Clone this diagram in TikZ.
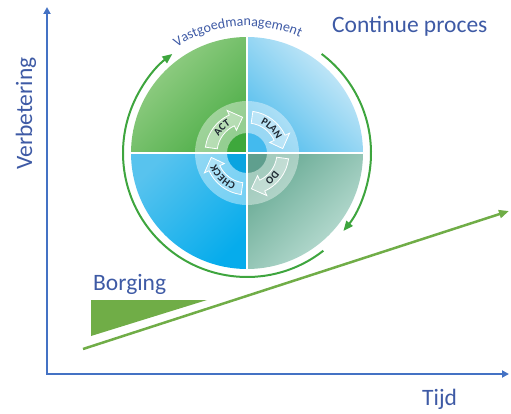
\documentclass[tikz,border=0pt]{standalone}
\usepackage{fontspec}
\setmainfont{Carlito}
\usetikzlibrary{arrows.meta, positioning, decorations.text}

\definecolor{axisblue}{RGB}{68,114,196}
\definecolor{textblue}{RGB}{62,90,165}
\definecolor{trendgreen}{RGB}{112,173,71}
\definecolor{cyclegreen}{RGB}{62,165,62}
\definecolor{pdcadark}{RGB}{30,40,50}
\definecolor{tllight}{RGB}{155,209,140}
\definecolor{tldark}{RGB}{78,174,72}
\definecolor{trlight}{RGB}{214,238,249}
\definecolor{trdark}{RGB}{85,190,237}
\definecolor{bllight}{RGB}{88,195,238}
\definecolor{bldark}{RGB}{6,172,236}
\definecolor{brlight}{RGB}{194,226,217}
\definecolor{brdark}{RGB}{104,170,148}
\definecolor{tlinner}{RGB}{62,168,60}
\definecolor{trinner}{RGB}{67,186,238}
\definecolor{blinner}{RGB}{10,164,224}
\definecolor{brinner}{RGB}{95,159,142}

\newcommand{\pdcafont}{\fontsize{10.5}{10.5}\selectfont\bfseries}

\tikzset{
  axisline/.style={draw=axisblue, line width=2pt, line join=miter,
    {Triangle[length=7pt,width=7pt]}-{Triangle[length=7pt,width=7pt]}},
  axislabel/.style={text=textblue, font=\fontsize{23.5}{23.5}\selectfont, inner sep=0pt},
  trendline/.style={draw=trendgreen, line width=2.5pt, -{Triangle[length=10pt,width=8pt]}},
  cyclearrow/.style={draw=cyclegreen, line width=2pt, -{Triangle[length=10pt,width=8pt]}},
  pdcaarrow/.style={draw=white, line width=0.8pt, fill=white, fill opacity=0.3},
  pdcalabel/.style={decorate, decoration={text along path, text align=center,
    text color=pdcadark, text={|\pdcafont|#1}}}
}

\begin{document}
\begin{tikzpicture}[x=1pt, y=1pt]
  \useasboundingbox (0,0) rectangle (511,413);

  % assen
  \coordinate (origin) at (47,39);
  \coordinate (ytop) at (47,406);
  \coordinate (xend) at (509,39);
  \draw[axisline] (ytop) -- (origin) -- (xend);

  \node (verbetering) at (32,243) [axislabel, anchor=base west, rotate=90] {Verbetering};
  \node (tijd) at (422,8) [axislabel, anchor=base west] {Tijd};
  \node (borging) at (93,123) [axislabel, anchor=base west] {Borging};
  \node (proces) at (332,380) [axislabel, anchor=base west] {Continue proces};

  % borging en stijgende lijn
  \fill[trendgreen] (91,113) -- (207,113) -- (91,77) -- cycle;
  \coordinate (trendstart) at (83,64);
  \coordinate (trendend) at (509,202);
  \draw[trendline] (trendstart) -- (trendend);

  % cirkel
  \coordinate (C) at (247,260);
  \foreach \a/\ctop/\cbot/\sa in {180/tllight/tldark/45, 90/trlight/trdark/-45,
      0/brdark/brlight/45, -90/bllight/bldark/45}
    \shade[top color=\ctop, bottom color=\cbot, shading angle=\sa]
      (C) -- ++(\a:116) arc[start angle=\a, end angle=\a-90, radius=116] -- cycle;
  \foreach \a/\c in {180/tlinner, 90/trinner, 0/brinner, -90/blinner}
    \fill[\c] (C) -- ++(\a:20) arc[start angle=\a, end angle=\a-90, radius=20] -- cycle;
  \fill[white, fill opacity=0.4, even odd rule] (C) circle[radius=52] (C) circle[radius=20];
  \draw[white, line width=1.5pt] ([xshift=-116pt]C) -- ([xshift=116pt]C);
  \draw[white, line width=1.5pt] ([yshift=-116pt]C) -- ([yshift=116pt]C);

  % PDCA pijlen
  \begin{scope}[shift={(C)}]
    \foreach \a in {135,45,-45,225}
      \draw[pdcaarrow] ({\a+37}:30) arc[start angle=\a+37, end angle=\a-20, radius=30]
        -- ({\a-20}:25) -- ({\a-38}:36) -- ({\a-20}:47) -- ({\a-20}:42)
        arc[start angle=\a-20, end angle=\a+37, radius=42] -- cycle;
    \path[pdcalabel=ACT] (175:32.5) arc[start angle=175, end angle=95, radius=32.5];
    \path[pdcalabel=PLAN] (85:32.5) arc[start angle=85, end angle=5, radius=32.5];
    \path[pdcalabel=DO] (-5:32.5) arc[start angle=-5, end angle=-85, radius=32.5];
    \path[pdcalabel=CHECK] (265:32.5) arc[start angle=265, end angle=185, radius=32.5];
  \end{scope}

  \path[decorate, decoration={text along path, text align=center, text color=textblue,
      text={|\fontsize{14}{14}\selectfont|Vastgoedmanagement}}]
    (C) ++(129:127) arc[start angle=129, end angle=60, radius=127];

  % cyclus
  \draw[cyclearrow] (C) ++(53:124) arc[start angle=53, end angle=-39, radius=124];
  \draw[cyclearrow] (C) ++(-52:124) arc[start angle=-52, end angle=-233, radius=124];
\end{tikzpicture}
\end{document}
